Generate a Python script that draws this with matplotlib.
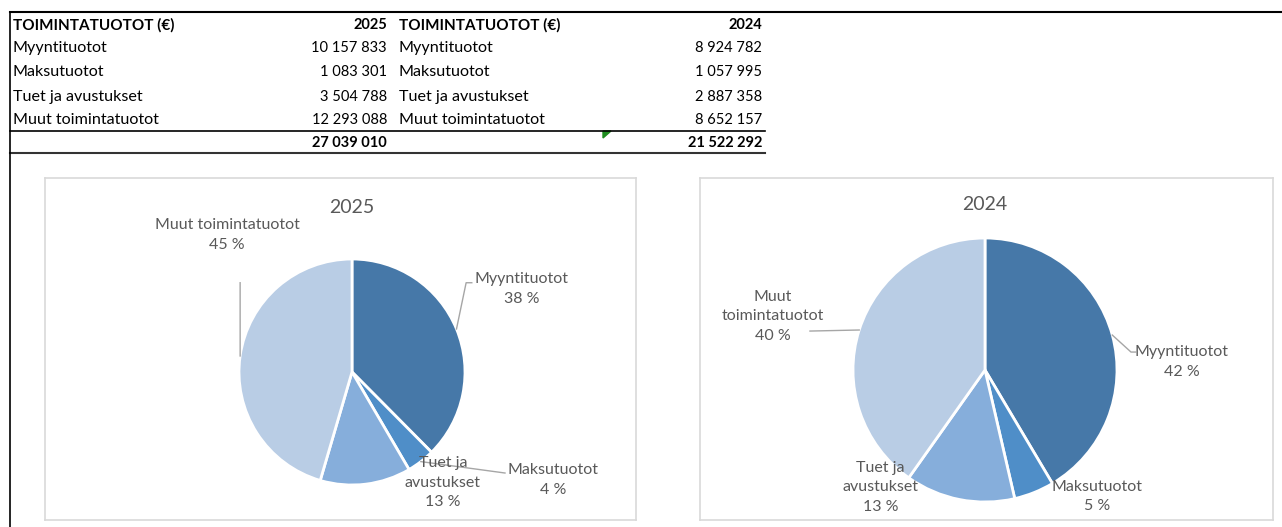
import numpy as np
import matplotlib.pyplot as plt
from matplotlib.patches import Polygon

categories = ["Myyntituotot", "Maksutuotot", "Tuet ja avustukset", "Muut toimintatuotot"]
values_2025 = [10157833, 1083301, 3504788, 12293088]
values_2024 = [8924782, 1057995, 2887358, 8652157]
years = ["2025", "2024"]
header = "TOIMINTATUOTOT (€)"
colors = ["#4678A8", "#4F8EC8", "#86AEDB", "#B9CDE5"]

plt.rcParams['font.family'] = ['Lato', 'DejaVu Sans']
txt_col = "#595959"


def fmt(v):
    # finnish thousands separator
    return "{:,}".format(v).replace(",", " ")


def round_pct(vals):
    # largest remainder so the labels sum to 100 (like excel shows them)
    p = np.array(vals) / np.sum(vals) * 100
    fl = np.floor(p).astype(int)
    rest = 100 - fl.sum()
    order = np.argsort(-(p - fl))
    fl[order[:rest]] += 1
    return fl


fig = plt.figure(figsize=(12.82, 5.27), dpi=100)
bg = fig.add_axes([0, 0, 1, 1])
bg.set_xlim(0, 1282)
bg.set_ylim(527, 0)
bg.axis("off")

# table
rows_y = [48, 72, 97, 120]
for col, (vals, yr) in enumerate([(values_2025, years[0]), (values_2024, years[1])]):
    xl = 13 if col == 0 else 399
    xr = 387 if col == 0 else 762
    bg.text(xl, 25, header, fontsize=11, fontweight="bold", va="center", ha="left")
    bg.text(xr, 25, yr, fontsize=10.5, fontweight="bold", va="center", ha="right")
    for y, c, v in zip(rows_y, categories, vals):
        bg.text(xl, y, c, fontsize=11.6, va="center", ha="left")
        bg.text(xr, y, fmt(v), fontsize=10.5, va="center", ha="right")
    bg.text(xr, 143, fmt(sum(vals)), fontsize=10.5, fontweight="bold", va="center", ha="right")

bg.plot([10, 1282], [12, 12], color="black", lw=1.5)
bg.plot([10, 765], [131, 131], color="black", lw=1.2)
bg.plot([10, 765], [153, 153], color="#333333", lw=1.5)
bg.plot([10, 10], [12, 527], color="black", lw=1.2)
bg.add_patch(Polygon([[603, 131], [611, 131], [603, 138]], closed=True, color="#1E8C1E"))

# pies: (box, center, radius in px), label positions in radius units
charts = [
    dict(vals=values_2025, year=years[0], box=(45, 178, 636, 520), c=(352, 372), r=113, title_y=1.46,
         labels=[(1.50, 0.735, [(1.01, 0.79), (1.06, 0.79)]),
                 (1.78, -0.956, [(1.354, -0.894)]),
                 (0.805, -0.98, None),
                 (-1.106, 1.212, [(-0.99, 0.79)])],
         names=["Myyntituotot", "Maksutuotot", "Tuet ja\navustukset", "Muut toimintatuotot"]),
    dict(vals=values_2024, year=years[1], box=(700, 178, 1273, 520), c=(985, 370), r=132, title_y=1.25,
         labels=[(1.49, 0.06, [(1.106, 0.136), (1.14, 0.136)]),
                 (0.85, -0.96, None),
                 (-0.79, -0.89, None),
                 (-1.606, 0.409, [(-1.326, 0.295)])],
         names=["Myyntituotot", "Maksutuotot", "Tuet ja\navustukset", "Muut\ntoimintatuotot"]),
]

for ch in charts:
    x0, y0, x1, y1 = ch["box"]
    cx, cy = ch["c"]
    r = ch["r"]
    ax = fig.add_axes([x0 / 1282, (527 - y1) / 527, (x1 - x0) / 1282, (y1 - y0) / 527])
    wedges, _ = ax.pie(ch["vals"], colors=colors, startangle=90, counterclock=False,
                       wedgeprops=dict(edgecolor="white", linewidth=2), radius=1, frame=True)
    ax.set_xlim((x0 - cx) / r, (x1 - cx) / r)
    ax.set_ylim((cy - y1) / r, (cy - y0) / r)
    ax.set_aspect("auto")
    ax.set_xticks([])
    ax.set_yticks([])
    for s in ax.spines.values():
        s.set_color("#D9D9D9")
        s.set_linewidth(1.2)
    ax.text(0, ch["title_y"], ch["year"], fontsize=14, color=txt_col, ha="center", va="center")
    pcts = round_pct(ch["vals"])
    for w, (lx, ly, lead), name, p in zip(wedges, ch["labels"], ch["names"], pcts):
        ang = np.deg2rad((w.theta1 + w.theta2) / 2)
        if lead is not None:
            pts = [(np.cos(ang), np.sin(ang))] + lead
            xs, ys = zip(*pts)
            ax.plot(xs, ys, color="#A6A6A6", lw=1)
        ax.text(lx, ly, "{}\n{} %".format(name, p), fontsize=11.5, color=txt_col,
                ha="center", va="center", linespacing=1.5)

fig.savefig("out.png", dpi=100, facecolor="white")
